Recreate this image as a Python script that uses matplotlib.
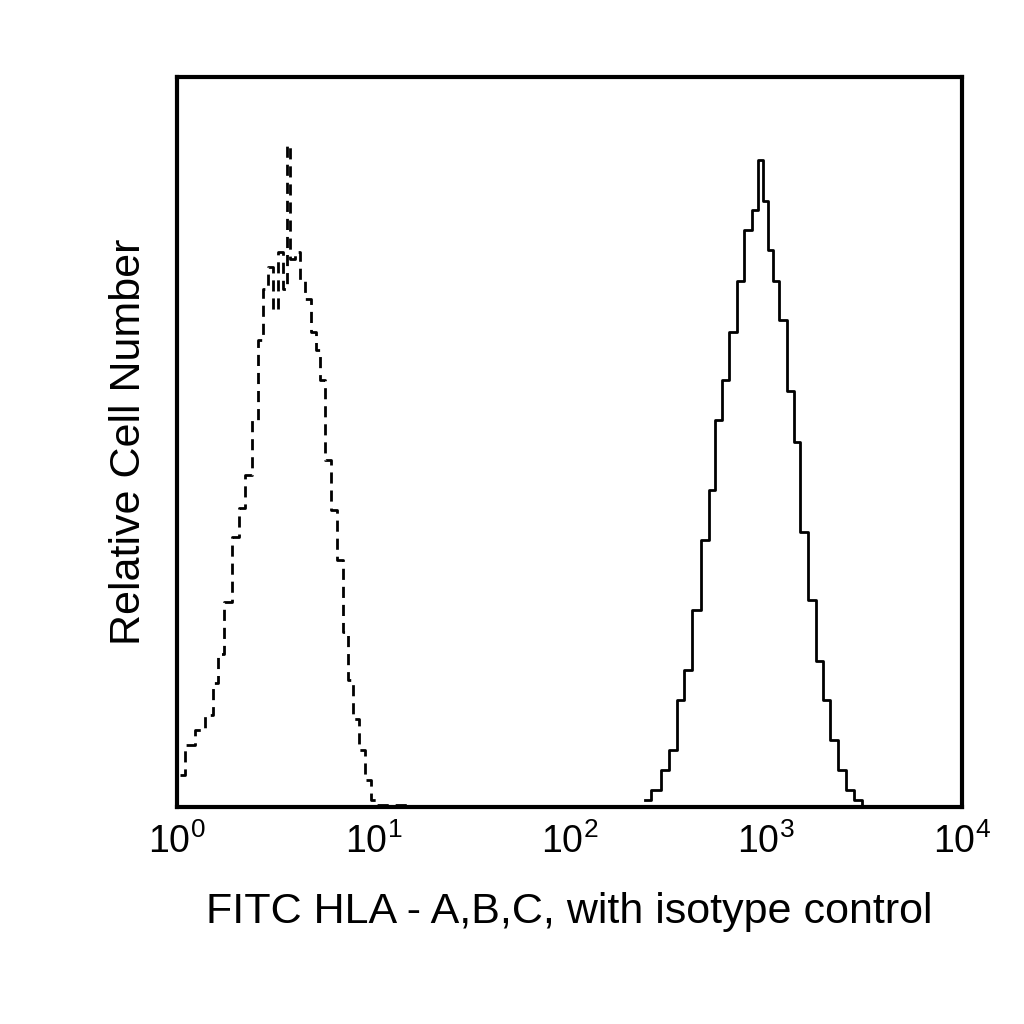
import matplotlib
matplotlib.use('Agg')
import matplotlib.pyplot as plt
import numpy as np

plt.rcParams['font.family'] = ['Liberation Sans', 'DejaVu Sans']
plt.rcParams['mathtext.fontset'] = 'custom'
plt.rcParams['mathtext.rm'] = 'Liberation Sans'
plt.rcParams['mathtext.it'] = 'Liberation Sans'

# isotype control (dashed): log10 intensity, relative count (0-100)
iso_log = [0.015, 0.066, 0.117, 0.168, 0.194, 0.219, 0.26, 0.296, 0.332, 0.362,
           0.398, 0.423, 0.449, 0.474, 0.5, 0.526, 0.551, 0.566, 0.587, 0.612,
           0.638, 0.668, 0.694, 0.719, 0.74, 0.77, 0.801, 0.832, 0.857, 0.883,
           0.913, 0.944, 0.974, 1.005, 1.036, 1.3, 1.6]
iso_cnt = [4.4, 8.5, 10.5, 12.6, 17, 21, 28, 37, 41, 45.5,
           53, 64, 71, 74, 68, 76, 71, 90.7, 75, 76,
           72, 69.5, 65, 62.6, 58.5, 47.5, 40.7, 33.8, 24, 17.4,
           12, 7.8, 3.7, 1, 0.3, 0, 0]

# HLA-A,B,C stained (solid)
hla_log = [2.388, 2.439, 2.49, 2.526, 2.566, 2.607, 2.643, 2.694, 2.73, 2.76,
           2.796, 2.832, 2.872, 2.913, 2.949, 2.974, 3.0, 3.026, 3.051, 3.087,
           3.128, 3.163, 3.194, 3.235, 3.276, 3.311, 3.347, 3.388, 3.429, 3.469,
           3.51]
hla_cnt = [1, 2.3, 5, 7.8, 14.7, 18.8, 27, 36.6, 43.4, 53,
           58.5, 65, 72, 79, 81.8, 88.6, 83, 76.3, 72, 66.7,
           57, 50, 37.7, 28.4, 20, 14.7, 9.2, 5, 2.3, 1,
           0]

fig = plt.figure(figsize=(10.24, 10.24), dpi=100)
ax = fig.add_axes([0.173, 0.212, 0.766, 0.713])

ax.plot(10 ** np.array(iso_log), iso_cnt, color='black', lw=2,
        linestyle=(0, (4, 2.5)), drawstyle='steps-mid')
ax.plot(10 ** np.array(hla_log), hla_cnt, color='black', lw=2,
        drawstyle='steps-mid')

ax.set_xscale('log')
ax.set_xlim(1, 1e4)
ax.set_ylim(0, 100)
ax.set_xticks([1, 10, 100, 1000, 10000])
ax.set_xticklabels([r'$10^{%d}$' % i for i in range(5)])
ax.minorticks_off()
ax.tick_params(axis='x', length=0, labelsize=27, pad=12)
ax.set_yticks([])
for s in ax.spines.values():
    s.set_linewidth(3)

ax.set_xlabel('FITC HLA - A,B,C, with isotype control', fontsize=31, labelpad=22)
ax.set_ylabel('Relative Cell Number', fontsize=31, labelpad=20)

fig.savefig('out.png', dpi=100)
